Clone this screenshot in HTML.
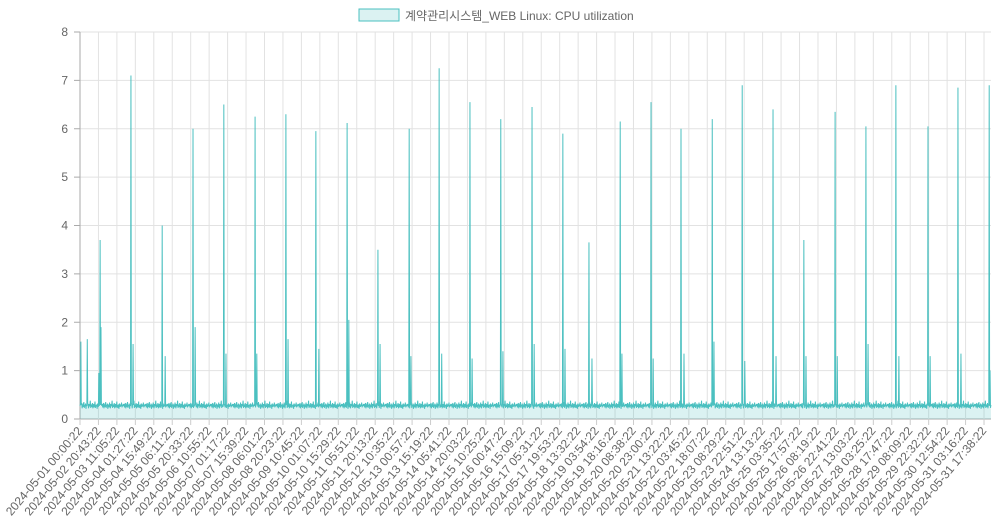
<!DOCTYPE html>
<html><head><meta charset="utf-8"><style>
html,body{margin:0;padding:0;background:#fff;width:1000px;height:520px;overflow:hidden}
svg text{font-family:"Liberation Sans","Noto Sans CJK KR",sans-serif;fill:#666;font-size:12px}
</style></head><body>
<svg id="chart" width="1000" height="520"></svg>
<script>
// ---- data ----
const tickLabels=["2024-05-01 00:00:22","2024-05-02 20:43:22","2024-05-03 11:05:22","2024-05-04 01:27:22","2024-05-04 15:49:22","2024-05-05 06:11:22","2024-05-05 20:33:22","2024-05-06 10:55:22","2024-05-07 01:17:22","2024-05-07 15:39:22","2024-05-08 06:01:22","2024-05-08 20:23:22","2024-05-09 10:45:22","2024-05-10 01:07:22","2024-05-10 15:29:22","2024-05-11 05:51:22","2024-05-11 20:13:22","2024-05-12 10:35:22","2024-05-13 00:57:22","2024-05-13 15:19:22","2024-05-14 05:41:22","2024-05-14 20:03:22","2024-05-15 10:25:22","2024-05-16 00:47:22","2024-05-16 15:09:22","2024-05-17 05:31:22","2024-05-17 19:53:22","2024-05-18 13:32:22","2024-05-19 03:54:22","2024-05-19 18:16:22","2024-05-20 08:38:22","2024-05-20 23:00:22","2024-05-21 13:22:22","2024-05-22 03:45:22","2024-05-22 18:07:22","2024-05-23 08:29:22","2024-05-23 22:51:22","2024-05-24 13:13:22","2024-05-25 03:35:22","2024-05-25 17:57:22","2024-05-26 08:19:22","2024-05-26 22:41:22","2024-05-27 13:03:22","2024-05-28 03:25:22","2024-05-28 17:47:22","2024-05-29 08:09:22","2024-05-29 22:32:22","2024-05-30 12:54:22","2024-05-31 03:16:22","2024-05-31 17:38:22"];
const yTicks=[0,1,2,3,4,5,6,7,8];
const spikeHours=[0.8,5.5,14.8,15.6,16.4,39.7,41.3,63.9,66.2,88.0,89.6,112.1,113.7,136.3,137.8,160.4,162.0,183.8,186.1,208.0,209.4,232.1,233.6,256.2,257.7,279.6,281.8,303.7,305.3,327.8,329.4,352.0,353.6,376.1,377.7,396.4,398.7,420.5,422.1,444.6,446.2,468.0,470.3,492.2,493.7,515.5,517.8,539.7,541.9,563.8,565.4,587.9,589.5,612.1,613.7,635.4,637.8,660.3,661.9,683.7,686.0,707.9,708.6];
const spikeValues=[1.6,1.65,0.95,3.7,1.9,7.1,1.55,4.0,1.3,6.0,1.9,6.5,1.35,6.25,1.35,6.3,1.65,5.95,1.45,6.12,2.05,3.5,1.55,6.0,1.3,7.25,1.35,6.55,1.25,6.2,1.4,6.45,1.55,5.9,1.45,3.65,1.25,6.15,1.35,6.55,1.25,6.0,1.35,6.2,1.6,6.9,1.2,6.4,1.3,3.7,1.3,6.35,1.3,6.05,1.55,6.9,1.3,6.05,1.3,6.85,1.35,6.9,1.0];
const baselinePattern=[0.27,0.31,0.24,0.29,0.33,0.22,0.28,0.3,0.25,0.35,0.23,0.29,0.26,0.32,0.21,0.3,0.27,0.24,0.34,0.28,0.22,0.31,0.26,0.29,0.38,0.23,0.27,0.3,0.25,0.33,0.22,0.28,0.31,0.24,0.27,0.36,0.23,0.29,0.26,0.3,0.21,0.32,0.28,0.25,0.3,0.27,0.34,0.24,0.29,0.26,0.31];
const totalHours=709.4;
const stepHours=1/3;
// ---- layout ----
const X0=80,X1=991,Y0=419,Y1=32;
const xs=h=>X0+h/totalHours*(X1-X0);
const ys=v=>Y0-v/8*(Y0-Y1);
const tickHours=i=>i*14.3667;
const NS="http://www.w3.org/2000/svg";
const svg=document.getElementById('chart');
function mk(t,a,p){const e=document.createElementNS(NS,t);for(const k in a)e.setAttribute(k,a[k]);(p||svg).appendChild(e);return e;}
// grid
const grid=mk('g',{});


yTicks.forEach(v=>{
  mk('line',{x1:X0,x2:X1,y1:ys(v),y2:ys(v),stroke:v===0?'#aaa':'#e2e2e2','stroke-width':1},grid);
  const t=mk('text',{x:X0-12,y:ys(v)+4,'text-anchor':'end'});t.textContent=v;
  
  
  mk('line',{x1:X0-6,x2:X0,y1:ys(v),y2:ys(v),stroke:'#aaa'},grid);
});
tickLabels.forEach((l,i)=>{
  const x=xs(tickHours(i));
  if(i>0)mk('line',{x1:x,x2:x,y1:Y1,y2:Y0,stroke:'#e2e2e2'},grid);
  mk('line',{x1:x,x2:x,y1:Y0,y2:Y0+6,stroke:'#ccc'},grid);
  const t=mk('text',{x:x+3,y:Y0+12,'text-anchor':'end',transform:`rotate(-50 ${x+3} ${Y0+12})`});t.textContent=l;
  
  
});
mk('line',{x1:X0,x2:X0,y1:Y1,y2:Y0,stroke:'#aaa'},grid);
// series
const n=Math.round(totalHours/stepHours);
const vals=[];
for(let i=0;i<=n;i++)vals.push(baselinePattern[i%baselinePattern.length]);
spikeHours.forEach((h,k)=>{const i=Math.round(h/stepHours);if(i<=n)vals[i]=Math.max(vals[i],spikeValues[k]);});
let pts=vals.map((v,i)=>xs(Math.min(i*stepHours,totalHours)).toFixed(2)+','+ys(v).toFixed(2)).join(' ');
const area=mk('polygon',{points:pts+` ${X1},${Y0} ${X0},${Y0}`,fill:'rgba(75,192,192,0.2)',stroke:'none'});


const line=mk('polyline',{points:pts,fill:'none',stroke:'rgb(75,192,192)','stroke-width':1});


// legend
const lg=mk('g',{});


mk('rect',{x:359,y:9,width:40,height:12,fill:'rgba(75,192,192,0.2)',stroke:'rgb(75,192,192)','stroke-width':1},lg);
const lt=mk('text',{x:405,y:20},lg);lt.textContent='계약관리시스템_WEB Linux: CPU utilization';
</script>
</body></html>
